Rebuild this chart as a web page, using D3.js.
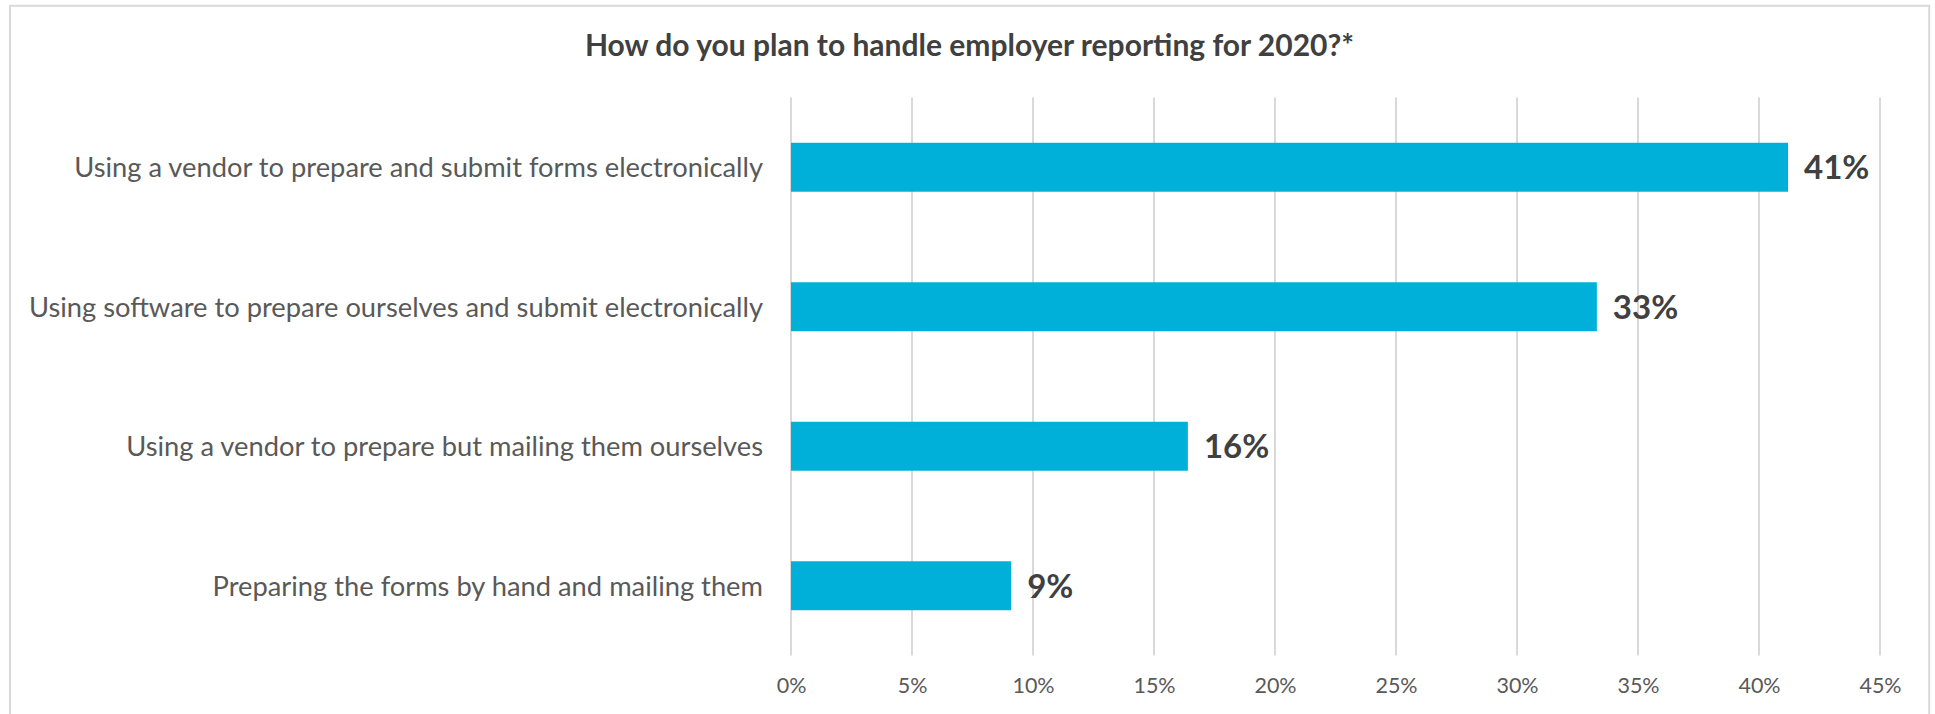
<!DOCTYPE html>
<html>
<head>
<meta charset="utf-8">
<script src="https://cdn.jsdelivr.net/npm/d3@7"></script>
<style>
  html, body { margin: 0; padding: 0; background: #ffffff; }
  svg { display: block; }
  text { font-family: Lato, "Open Sans", "Noto Sans", sans-serif; }
</style>
</head>
<body>
<svg id="chart" width="1935" height="714"></svg>
<script>
// Survey responses, top to bottom
const categories = [
  "Using a vendor to prepare and submit forms electronically",
  "Using software to prepare ourselves and submit electronically",
  "Using a vendor to prepare but mailing them ourselves",
  "Preparing the forms by hand and mailing them"
];
const shares = [41.2, 33.3, 16.4, 9.1];           // percent of respondents
const tickValues = [0, 5, 10, 15, 20, 25, 30, 35, 40, 45];
const tickLabels = ["0%", "5%", "10%", "15%", "20%", "25%", "30%", "35%", "40%", "45%"];
const chartTitle = "How do you plan to handle employer reporting for 2020?*";

const W = 1935, H = 714;
const plot = { left: 791, right: 1880, top: 97.5, bottom: 655.5 };

const svg = d3.select("#chart");

// chart area frame (open at the bottom edge of the view)
svg.append("path")
  .attr("d", `M10,${H + 5} V5.8 H1929.2 V${H + 5}`)
  .attr("fill", "none")
  .attr("stroke", "#d9d9d9")
  .attr("stroke-width", 2);

const x = d3.scaleLinear().domain([0, 45]).range([plot.left, plot.right]);
const y = d3.scaleBand().domain(categories)
  .range([plot.top, plot.bottom])
  .paddingInner(0.649).paddingOuter(0.3245);

// vertical gridlines
svg.append("g").selectAll("line")
  .data(tickValues)
  .join("line")
  .attr("x1", d => x(d)).attr("x2", d => x(d))
  .attr("y1", plot.top).attr("y2", plot.bottom)
  .attr("stroke", "#d9d9d9")
  .attr("stroke-width", 2);

// horizontal value axis labels
const xAxis = d3.axisBottom(x)
  .tickValues(tickValues)
  .tickFormat((d, i) => tickLabels[i])
  .tickSize(0)
  .tickPadding(0);
const gx = svg.append("g")
  .attr("transform", `translate(0,${plot.bottom})`)
  .call(xAxis);
gx.select(".domain").remove();
gx.selectAll("text")
  .attr("dy", null)
  .attr("y", 37)
  .attr("fill", "#595959")
  .style("font-size", "21.5px")
  .style("font-family", "Lato, sans-serif");

// category axis labels
const yAxis = d3.axisLeft(y).tickSize(0).tickPadding(0);
const gy = svg.append("g")
  .attr("transform", `translate(${plot.left - 28},0)`)
  .call(yAxis);
gy.select(".domain").remove();
gy.selectAll("text")
  .attr("dy", "0.36em")
  .attr("fill", "#595959")
  .style("font-size", "27.3px")
  .style("font-family", "Lato, sans-serif");

// bars
svg.append("g").selectAll("rect")
  .data(shares)
  .join("rect")
  .attr("x", x(0))
  .attr("y", (d, i) => y(categories[i]))
  .attr("width", d => x(d) - x(0))
  .attr("height", y.bandwidth())
  .attr("fill", "#00b0d8");

// value labels
const fmt = d => Math.round(d) + "%";
svg.append("g").selectAll("text")
  .data(shares)
  .join("text")
  .attr("x", d => x(d) + 16)
  .attr("y", (d, i) => y(categories[i]) + y.bandwidth() / 2)
  .attr("dy", "0.36em")
  .attr("fill", "#404040")
  .style("font-size", "33px")
  .style("font-weight", 700)
  .text(fmt);

// title
svg.append("text")
  .attr("x", (10 + 1929) / 2)
  .attr("y", 56)
  .attr("text-anchor", "middle")
  .attr("fill", "#404040")
  .style("font-size", "30px")
  .style("font-weight", 700)
  .text(chartTitle);
</script>
</body>
</html>
